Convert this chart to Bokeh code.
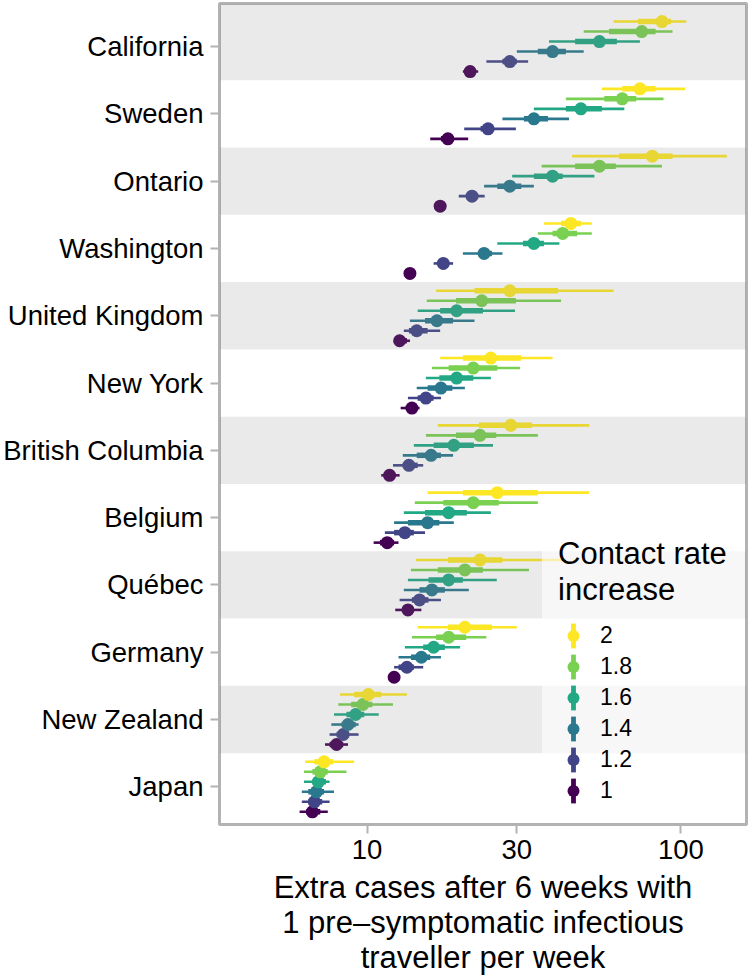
from bokeh.plotting import figure
from bokeh.models import (ColumnDataSource, FixedTicker, PrintfTickFormatter,
                          Legend, LegendItem, Range1d)
from bokeh.embed import file_html
from bokeh.resources import INLINE

regions = ["California", "Sweden", "Ontario", "Washington", "United Kingdom",
           "New York", "British Columbia", "Belgium", "Québec", "Germany",
           "New Zealand", "Japan"]
rates = ["2", "1.8", "1.6", "1.4", "1.2", "1"]
colors = ["#FDE725", "#7AD151", "#22A884", "#2A788E", "#414487", "#440154"]
x_ticks = [10, 30, 100]

# contact rate 2
mid_2 = [87, 74, 81, 44.6, 28.5, 24.8, 28.7, 26, 22.9, 20.5, 10.1, 7.3]
lo50_2 = [73, 65, 63.5, 41.5, 22, 20.2, 22.7, 20.2, 18.1, 18.1, 9.1, 6.8]
hi50_2 = [93, 83, 94, 48, 40.6, 31, 33.5, 35, 27, 25, 11.1, 7.8]
lo95_2 = [61, 56, 45, 36.6, 16.6, 17.1, 16.8, 15.6, 14.3, 14.5, 8.2, 6.35]
hi95_2 = [104, 103, 140, 52, 61, 39, 51, 51, 43, 30, 13.4, 9.1]
# contact rate 1.8
mid_18 = [75, 65, 55, 42, 23.2, 21.8, 22.9, 21.8, 20.5, 18.2, 9.7, 7.1]
lo50_18 = [59, 57, 46, 39, 19.2, 18.2, 19.2, 17.5, 16.8, 16.6, 8.9, 6.7]
hi50_18 = [83, 72, 62, 46.7, 29.8, 26, 25.8, 26.3, 23.4, 20.7, 10.4, 7.5]
lo95_18 = [49, 43, 36, 35, 15.5, 16.1, 15.4, 14.2, 13.8, 13.9, 8.1, 6.3]
hi95_18 = [94, 88, 87, 52, 41.5, 30.7, 35, 35, 32.8, 24, 12.1, 8.6]
# contact rate 1.6
mid_16 = [55, 48, 39, 34, 19.3, 19.3, 18.9, 18.2, 18.2, 16.3, 9.2, 7.0]
lo50_16 = [46, 43, 34, 31.4, 17.1, 17, 16.3, 15.3, 15.7, 15.1, 8.6, 6.7]
hi50_16 = [62.5, 56, 42, 36.6, 23.4, 21.8, 21.9, 20.8, 20.2, 17.7, 9.8, 7.4]
lo95_16 = [38, 34, 29, 26, 14.5, 15.4, 14.1, 13.1, 13.5, 13.2, 7.85, 6.3]
hi95_16 = [74, 66, 53, 41, 29.6, 24.8, 25.2, 24.8, 25.9, 19.8, 10.9, 7.6]
# contact rate 1.4
mid_14 = [39, 34, 28.5, 23.6, 16.7, 17.2, 16, 15.6, 16.1, 14.9, 8.7, 6.9]
lo50_14 = [35, 31.6, 26, 22.6, 15.3, 15.6, 14.4, 13.5, 14.7, 13.8, 8.3, 6.5]
hi50_14 = [43, 37.7, 31, 25, 18.8, 18.7, 17.2, 17, 17.7, 15.9, 9.2, 7.3]
lo95_14 = [30, 27, 23.6, 20.2, 13.7, 14.4, 13, 12.2, 13.1, 12.6, 7.7, 6.2]
hi95_14 = [49, 44, 34, 27, 22, 20.5, 18.8, 18.9, 21.1, 17.2, 9.4, 7.85]
# contact rate 1.2
mid_12 = [28.5, 24.3, 21.6, 17.5, 14.4, 15.4, 13.6, 13.2, 14.7, 13.4, 8.4, 6.8]
lo50_12 = [27, 23, 20.7, 17, 13.6, 14.5, 13, 12.2, 13.9, 12.6, 8.0, 6.5]
hi50_12 = [30, 25.4, 22.6, 18, 15.6, 16.3, 14.5, 14.1, 15.7, 14.1, 8.75, 7.2]
lo95_12 = [24, 20.4, 19.6, 16.3, 13.1, 13.5, 12.1, 11.4, 12.7, 12.2, 7.6, 6.2]
hi95_12 = [32.6, 29.8, 23.7, 18.8, 17.1, 17.2, 15.1, 15.3, 17.2, 15.1, 9.4, 7.6]
# contact rate 1
mid_1 = [21.3, 18.1, 17.1, 13.7, 12.7, 13.9, 11.8, 11.6, 13.5, 12.2, 8.0, 6.7]
lo50_1 = [20.6, 17.2, 16.8, 13.4, 12.3, 13.3, 11.4, 11, 13, 12.0, 7.6, 6.4]
hi50_1 = [22, 18.9, 17.4, 14.0, 13.4, 14.5, 12.3, 12.2, 14.1, 12.5, 8.4, 7.1]
lo95_1 = [20.2, 15.9, 16.6, 13.2, 12.2, 12.8, 11.1, 10.5, 12.3, 11.8, 7.35, 6.1]
hi95_1 = [22.6, 21, 17.6, 14.2, 13.7, 14.7, 12.7, 12.6, 14.9, 12.6, 8.7, 7.5]

series = {
    "2": (mid_2, lo50_2, hi50_2, lo95_2, hi95_2),
    "1.8": (mid_18, lo50_18, hi50_18, lo95_18, hi95_18),
    "1.6": (mid_16, lo50_16, hi50_16, lo95_16, hi95_16),
    "1.4": (mid_14, lo50_14, hi50_14, lo95_14, hi95_14),
    "1.2": (mid_12, lo50_12, hi50_12, lo95_12, hi95_12),
    "1": (mid_1, lo50_1, hi50_1, lo95_1, hi95_1),
}

FONT = "Liberation Sans"
n = len(regions)
row_y = [n - i for i in range(n)]
dodge = 0.1486

x_range = Range1d(3.39, 161.7)
y_range = Range1d(0.44, 12.64)

p = figure(width=750, height=977, x_axis_type="log", x_range=x_range,
           y_range=y_range, output_backend="svg", toolbar_location=None,
           min_border_left=219, min_border_right=4, min_border_top=3,
           min_border_bottom=152)
p.background_fill_color = "white"
p.border_fill_color = "white"
p.outline_line_color = "#b3b3b3"
p.outline_line_width = 3
p.xgrid.visible = False
p.ygrid.visible = False

sources = {}
for k, r in enumerate(rates):
    mid, lo50, hi50, lo95, hi95 = series[r]
    ys = [y + (2.5 - k) * dodge for y in row_y]
    sources[r] = ColumnDataSource(dict(y=ys, mid=mid, lo50=lo50, hi50=hi50,
                                       lo95=lo95, hi95=hi95))

order = list(reversed(list(range(len(rates)))))  # draw rate 1 first
for k in order:
    r = rates[k]
    p.segment(x0="lo95", x1="hi95", y0="y", y1="y", source=sources[r],
              line_color=colors[k], line_width=2.6)
for k in order:
    r = rates[k]
    p.segment(x0="lo50", x1="hi50", y0="y", y1="y", source=sources[r],
              line_color=colors[k], line_width=5.5)
pts = {}
for k in order:
    r = rates[k]
    pts[r] = p.scatter(x="mid", y="y", source=sources[r], size=13,
                       fill_color=colors[k], line_color=None)
# zero-size bars: only used to draw the vertical key bars in the legend
bars = {}
for k in order:
    r = rates[k]
    bars[r] = p.vbar(x="mid", width=0, top="y", bottom="y", source=sources[r],
                     fill_color=colors[k], line_color=None)
# invisible marker: only used to size the legend's background box
ghost = p.scatter(x="mid", y="y", source=sources["1"], size=0,
                  fill_alpha=0, line_alpha=0)

# alternating shaded bands (drawn over the marks, semi-transparent)
band_rows = [y for i, y in enumerate(row_y) if i % 2 == 0]
band_bottom = [y - 0.5 for y in band_rows]
band_top = [y_range.end if y == max(row_y) else y + 0.5 for y in band_rows]
p.quad(left=x_range.start, right=x_range.end, bottom=band_bottom, top=band_top,
       fill_color="#808080", fill_alpha=0.17, line_color=None)

# axes
p.xaxis.ticker = FixedTicker(ticks=x_ticks)
p.xaxis.formatter = PrintfTickFormatter(format="%d")
p.xaxis.axis_label = ("Extra cases after 6 weeks with\n"
                      "1 pre\u2013symptomatic infectious\ntraveller per week")
p.xaxis.axis_label_text_font = FONT
p.xaxis.axis_label_text_font_size = "31px"
p.xaxis.axis_label_text_font_style = "normal"
p.xaxis.axis_label_text_color = "black"
p.xaxis.axis_label_text_line_height = 1.0
p.xaxis.axis_label_standoff = 8
p.xaxis.major_label_text_font = FONT
p.xaxis.major_label_text_font_size = "27.5px"
p.xaxis.major_label_text_color = "black"
p.xaxis.major_label_standoff = 6

p.yaxis.ticker = FixedTicker(ticks=row_y)
p.yaxis.major_label_overrides = {y: name for y, name in zip(row_y, regions)}
p.yaxis.major_label_text_font = FONT
p.yaxis.major_label_text_font_size = "27.5px"
p.yaxis.major_label_text_color = "black"
p.yaxis.major_label_standoff = 7

for ax in (p.xaxis, p.yaxis):
    ax.axis_line_color = None
    ax.major_tick_line_color = "#b3b3b3"
    ax.major_tick_line_width = 2
    ax.major_tick_in = 0
    ax.major_tick_out = 9
    ax.minor_tick_line_color = None

# legend background box (translucent white)
legend_bg = Legend(
    items=[LegendItem(label=" ", renderers=[ghost])],
    location=(323, 2), label_text_font=FONT, label_text_font_size="10px",
    glyph_width=202, glyph_height=288, spacing=0, padding=0,
    label_standoff=0, label_width=1, margin=0,
    background_fill_color="white", background_fill_alpha=0.6,
    border_line_color=None)
p.add_layout(legend_bg)

# legend: circles + labels + title
legend_a = Legend(
    items=[LegendItem(label=r, renderers=[pts[r]]) for r in rates],
    location=(339, 18), title="Contact rate\nincrease", title_text_font=FONT,
    title_text_font_size="31px", title_text_font_style="normal",
    title_text_color="black", title_text_line_height=1.0, title_standoff=12,
    label_text_font=FONT, label_text_font_size="23px",
    label_text_color="black",
    glyph_width=30, glyph_height=31, spacing=0, padding=0,
    label_standoff=12, label_width=100, margin=0,
    background_fill_alpha=0, border_line_color=None)
p.add_layout(legend_a)

# legend: vertical bars through the circles
legend_b = Legend(
    items=[LegendItem(label=" ", renderers=[bars[r]]) for r in rates],
    location=(351, 18),
    label_text_font=FONT, label_text_font_size="23px",
    glyph_width=6, glyph_height=31, spacing=0, padding=0,
    label_standoff=0, label_width=1, margin=0,
    background_fill_alpha=0, border_line_color=None)
p.add_layout(legend_b)

open("out.html", "w").write(file_html(p, INLINE))
